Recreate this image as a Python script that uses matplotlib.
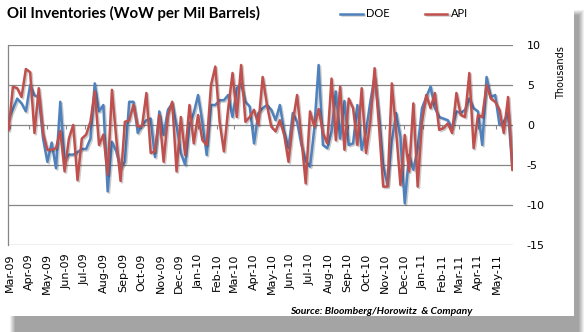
import numpy as np
import pandas as pd
import matplotlib
matplotlib.use("Agg")
import matplotlib.pyplot as plt
import matplotlib.dates as mdates
import matplotlib.patheffects as pe
from matplotlib.patches import Rectangle

# weekly inventory change, millions of barrels (axis shown in thousands)
dates = pd.date_range("2009-02-27", periods=118, freq="7D")

doe = [
    0.8, 2.0, 3.3, 2.7, 1.7, 5.0, 3.7, 3.5, -1.7, -4.6,
    -2.2, -5.4, 2.9, -4.4, -3.7, -3.7, -3.4, -3.0, -3.0, -1.7,
    5.2, 1.7, 2.5, -8.3, -2.1, -3.3, -5.4, -4.6, 2.9, 2.9,
    -1.0, 0.0, 0.6, 0.8, -4.0, 1.7, -1.25, 1.9, 2.7, 0.0,
    -3.5, -5.0, 0.0, 1.5, 3.75, 0.4, -3.75, 2.5, 2.5, 3.1,
    3.1, 3.75, 1.0, 4.6, 5.2, 2.9, 2.3, -2.3, 1.5, 2.1,
    2.5, 1.9, 0.6, 2.5, -0.8, -2.9, 1.5, 0.4, -2.5, -4.5,
    -5.2, -0.4, 7.5, -2.5, -2.9, -0.8, 4.2, -1.7, 3.0, -2.5,
    -2.3, 2.5, -3.1, -0.8, 2.9, 6.0, 1.25, -5.0, -7.5, -2.0,
    1.5, -1.5, -9.8, -3.75, -5.6, -2.9, 2.1, 3.5, 4.8, 2.1,
    1.0, 0.8, 0.6, -0.4, 1.7, 1.5, 1.9, 3.3, 2.1, 1.7,
    -2.5, 6.0, 3.5, 3.75, 0.0, 0.4, 1.5, -5.4,
]
api = [
    -0.6, 4.8, 4.6, 3.5, 7.0, 6.6, -1.0, 4.6, -1.0, -3.1,
    -3.1, -2.9, -0.75, -5.8, -1.7, 0.0, -6.9, -1.7, -1.2, 0.4,
    4.2, -2.5, -1.2, -6.2, 4.4, -1.7, -7.0, 0.4, 0.6, 2.5,
    -0.2, -0.1, 4.0, -3.5, -3.3, 1.25, -4.6, 1.25, 2.9, -5.8,
    1.0, -3.75, 2.5, -2.3, 1.25, -1.9, -2.5, 5.0, 7.3, 0.4,
    -3.3, 2.1, 6.5, 1.0, 7.5, 0.4, 1.0, 1.9, 0.0, 6.0,
    2.5, -0.2, -0.8, 0.6, -1.25, -4.6, 0.4, 3.75, -1.7, -7.3,
    1.7, -0.2, 2.0, -1.0, -2.3, 5.8, -1.9, 4.8, -3.1, 3.3,
    2.1, -2.5, 4.6, -3.5, 0.4, 7.1, 0.0, -7.7, -7.7, 5.2,
    -0.8, -7.5, -1.25, -5.8, 2.7, -7.7, 0.4, 3.75, 2.1, 4.0,
    -0.6, -0.4, 0.2, -1.0, 4.0, 1.25, 1.0, 6.5, -2.9, 1.25,
    1.0, 5.0, 3.3, 2.9, 1.9, -1.0, 3.5, -5.6,
]

month_ticks = pd.date_range("2009-03-01", "2011-05-01", freq="MS")
y_ticks = [10, 5, 0, -5, -10, -15]

BLUE = "#4F81BD"
RED = "#C0504D"
GRID = "#868686"

W, H = 584, 332
fig = plt.figure(figsize=(W / 100, H / 100), dpi=100)
fig.patch.set_facecolor("white")

# card with a soft drop shadow (right and bottom)
for i, a in enumerate([0.10, 0.12, 0.14, 0.16, 0.18, 0.20]):
    fig.patches.append(Rectangle(((10 + i) / W, 0), (W - 10 - 2 * i) / W, (H - 10 - i) / H,
                                 transform=fig.transFigure, facecolor="#707070",
                                 edgecolor="none", alpha=a, zorder=-3))
fig.patches.append(Rectangle((0, 16 / H), 574 / W, (H - 16) / H,
                             transform=fig.transFigure, facecolor="white",
                             edgecolor="none", zorder=-2))

ax = fig.add_axes([8 / W, (H - 245) / H, 505 / W, 200 / H])
ax.set_facecolor("none")

shadow = [pe.SimpleLineShadow(offset=(1.0, -1.0), alpha=0.2, shadow_color="black"),
          pe.Normal()]
ax.plot(dates, doe, color=BLUE, lw=1.8, path_effects=shadow, label="DOE", zorder=3)
ax.plot(dates, api, color=RED, lw=1.8, path_effects=shadow, label="API", zorder=4)

ax.set_ylim(-15, 10)
ax.set_xlim(dates[0] - pd.Timedelta(days=1), dates[-1] + pd.Timedelta(days=1))
for yv in y_ticks:
    ax.axhline(yv, color=GRID, lw=0.9, zorder=1)
# month tick marks sit on the zero line
ax.vlines(month_ticks, -0.45, 0, color=GRID, lw=0.8, zorder=1)

for s in ["top", "right", "bottom"]:
    ax.spines[s].set_visible(False)
ax.spines["left"].set_color(GRID)
ax.spines["left"].set_linewidth(0.9)

ax.yaxis.tick_right()
ax.set_yticks(y_ticks)
ax.set_yticklabels([str(v) for v in y_ticks])
ax.tick_params(axis="y", length=0, pad=10, labelsize=8)
ax.set_xticks(month_ticks)
ax.xaxis.set_major_formatter(mdates.DateFormatter("%b-%y"))
ax.tick_params(axis="x", length=0, pad=6, labelsize=8, rotation=90)
ax.set_ylabel("Thousands", fontsize=7, rotation=90)
ax.yaxis.set_label_position("right")
ax.yaxis.set_label_coords(1.085, 0.86)

fig.text(7 / W, 1 - 13 / H, "Oil Inventories (WoW per Mil Barrels)",
         fontsize=10.8, fontweight="bold", family="Lato", va="center", ha="left")
ax.legend(loc="upper left", bbox_to_anchor=(328 / 505, 1 + 41 / 200), ncol=2,
          frameon=False, prop={"family": "Lato", "size": 8}, handlelength=2.0,
          handletextpad=0.3, columnspacing=3.2, borderaxespad=0)
fig.text(472 / W, 1 - 311 / H, "Source: Bloomberg/Horowitz  & Company",
         fontsize=7.5, fontweight="bold", fontstyle="italic", family="Lato",
         ha="right", va="center")

fig.savefig("out.png", dpi=100)
